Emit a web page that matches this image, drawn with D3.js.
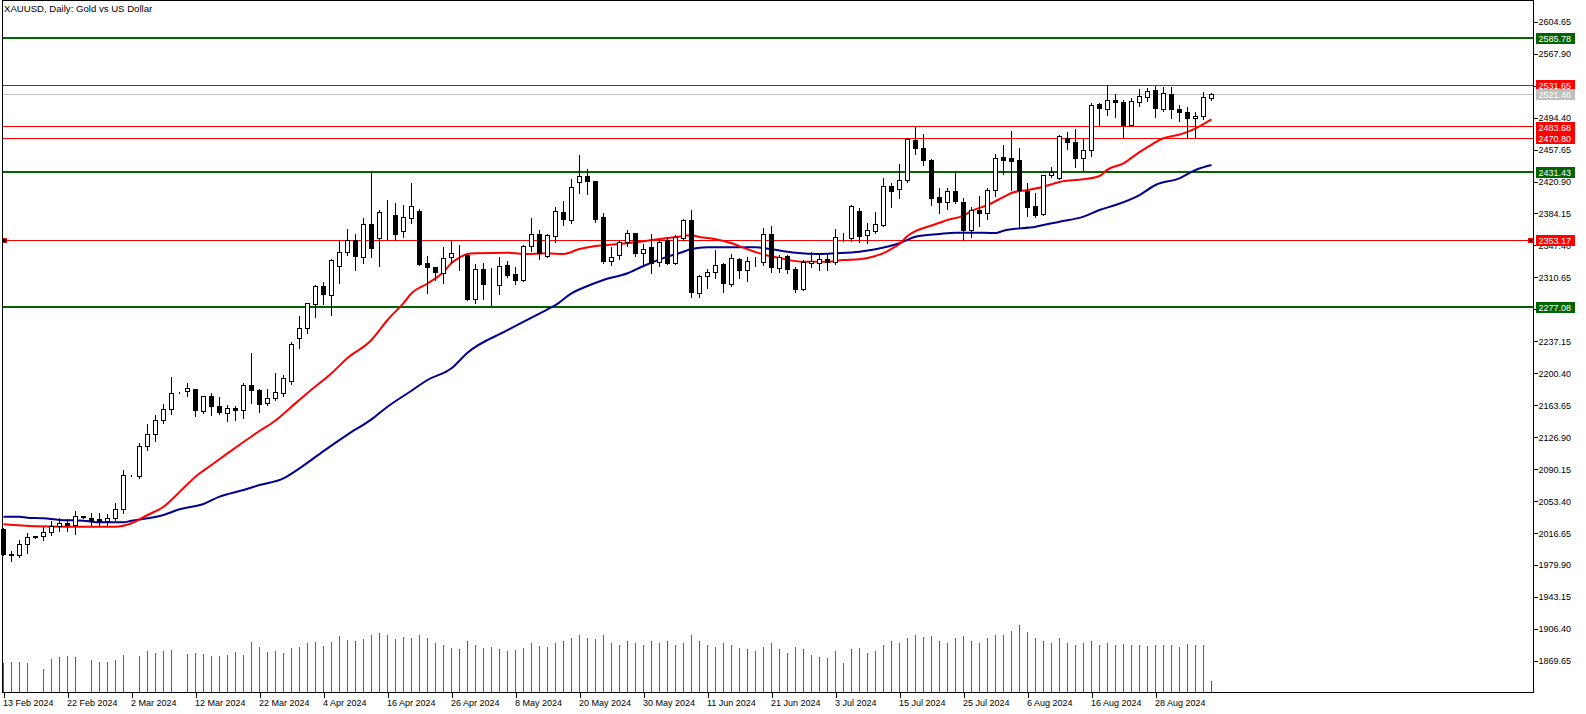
<!DOCTYPE html>
<html><head><meta charset="utf-8">
<script src="https://cdn.jsdelivr.net/npm/d3@7/dist/d3.min.js"></script>
<style>
html,body{margin:0;padding:0;background:#fff;}
svg{display:block;}
text{font-family:Tahoma,"Liberation Sans",Arial,sans-serif;font-size:9px;}
</style></head>
<body><svg id="c" width="1586" height="714"></svg>
<script>
// ---------- data ----------
const title = "XAUUSD, Daily:  Gold vs US Dollar";
const dateTickBars = [0,8,16,24,32,40,48,56,64,72,80,88,96,104,112,120,128,136,144];
const dateTickLabels = ["13 Feb 2024","22 Feb 2024","2 Mar 2024","12 Mar 2024","22 Mar 2024","4 Apr 2024","16 Apr 2024","26 Apr 2024","8 May 2024","20 May 2024","30 May 2024","11 Jun 2024","21 Jun 2024","3 Jul 2024","15 Jul 2024","25 Jul 2024","6 Aug 2024","16 Aug 2024","28 Aug 2024"];
const priceTicks = [2604.65,2567.90,2531.15,2494.40,2457.65,2420.90,2384.15,2347.40,2310.65,2273.90,2237.15,2200.40,2163.65,2126.90,2090.15,2053.40,2016.65,1979.90,1943.15,1906.40,1869.65];

const open = [2021,1992,1990.5,2003.7,2012.9,2012.4,2017.0,2024.7,2028.2,2025.9,2035.4,2033.6,2032.4,2029.7,2033.1,2043.9,2083.0,2081.4,2115.9,2130.2,
2145.8,2158.9,2178.5,2179.1,2181.9,2156.1,2174.2,2162.7,2154.3,2160.1,2157.3,2186.9,2181.1,2165.8,2171.6,2177.3,2191.5,2240.6,2252.1,2279.7,
2299.9,2289.5,2322.9,2339.0,2352.8,2333.2,2372.0,2355.6,2383.5,2382.4,2363.1,2378.5,2386.9,2326.8,2322.2,2315.3,2333.7,2336.4,2336.4,2285.4,
2319.9,2303.0,2301.9,2324.9,2314.5,2307.6,2345.9,2360.2,2335.2,2357.4,2385.8,2376.6,2419.5,2427.2,2421.5,2379.7,2328.6,2336.4,2350.5,2361.3,
2337.9,2345.2,2327.5,2353.6,2326.8,2355.6,2376.6,2292.3,2311.4,2316.0,2325.7,2303.0,2331.4,2318.3,2328.6,2327.9,2360.5,2321.1,2334.4,2319.9,
2297.3,2326.8,2326.8,2331.4,2327.5,2356.2,2355.6,2386.9,2358.5,2363.1,2370.9,2415.7,2411.9,2421.8,2468.6,2459.0,2445.6,2402.7,2397.0,2409.9,
2397.0,2364.3,2388.1,2384.3,2411.1,2448.7,2447.6,2445.6,2409.1,2392.7,2383.5,2427.5,2424.6,2470.6,2466.0,2447.6,2456.3,2508.9,2503.9,2513.8,
2512.0,2485.0,2512.0,2517.7,2525.3,2503.9,2521.2,2503.9,2500.5,2493.6,2495.4,2516.6];
const high = [2023,1996,2008.6,2016.3,2013.2,2023.2,2030.1,2033.6,2032.7,2041.9,2035.6,2039.3,2039.3,2038.5,2050.8,2089.1,2083.4,2119.8,2142.0,2152.4,
2165.0,2195.7,2178.8,2188.8,2182.3,2174.0,2177.3,2172.7,2163.9,2162.7,2188.8,2223.3,2182.3,2181.9,2200.3,2198.4,2236.0,2266.2,2281.5,2301.9,
2305.7,2331.4,2353.6,2366.2,2360.5,2378.6,2431.43,2388.1,2399.6,2395.8,2393.9,2419.5,2389.2,2335.2,2323.0,2345.2,2352.8,2347.8,2339.2,2326.0,
2326.8,2321.1,2334.4,2329.8,2322.2,2347.8,2378.5,2365.1,2360.2,2391.9,2398.5,2423.4,2451.4,2434.9,2422.0,2385.0,2345.9,2353.6,2365.1,2362.0,
2348.7,2360.2,2353.6,2357.4,2359.4,2377.8,2388.1,2313.3,2319.9,2342.1,2326.8,2337.5,2332.6,2334.4,2334.4,2367.1,2369.7,2336.4,2336.4,2322.9,
2330.6,2340.1,2337.5,2337.5,2365.9,2362.0,2393.9,2390.7,2372.8,2386.1,2424.6,2418.8,2440.7,2470.6,2483.68,2475.5,2446.4,2413.8,2413.1,2432.1,
2401.6,2391.9,2404.2,2413.8,2452.5,2462.9,2478.9,2459.0,2418.8,2407.3,2428.3,2437.2,2474.4,2478.1,2480.9,2470.6,2510.8,2511.5,2531.65,2521.5,
2514.6,2516.6,2527.2,2528.1,2530.7,2529.9,2529.9,2508.9,2506.9,2501.1,2524.1,2522.6];
const low = [1991,1984.5,1989.4,1993.3,2011.5,2008.6,2014.4,2018.9,2018.9,2015.5,2034.5,2025.9,2025.9,2025.9,2031.6,2039.3,2082.2,2079.6,2112.1,2122.8,
2143.5,2153.5,2177.7,2174.5,2151.2,2154.3,2152.4,2154.0,2145.8,2146.6,2149.3,2166.5,2156.1,2163.9,2169.6,2174.2,2187.7,2229.1,2247.0,2265.4,
2280.0,2267.4,2303.8,2336.4,2319.1,2326.8,2333.7,2323.7,2353.6,2353.6,2357.4,2373.5,2324.8,2292.3,2307.6,2304.5,2326.8,2319.1,2284.6,2281.5,
2285.4,2278.9,2291.5,2310.7,2303.0,2306.5,2341.0,2332.1,2334.4,2351.6,2370.9,2372.8,2408.0,2406.2,2374.6,2327.5,2324.9,2331.7,2346.7,2335.2,
2324.9,2315.3,2323.7,2326.4,2326.0,2353.6,2287.7,2287.7,2298.1,2309.6,2294.1,2300.7,2309.6,2306.5,2323.7,2324.9,2317.1,2317.1,2316.0,2294.1,
2296.1,2322.9,2319.1,2319.1,2326.0,2352.8,2352.8,2351.6,2349.8,2361.3,2369.7,2391.9,2401.6,2420.6,2452.2,2439.8,2393.9,2384.3,2388.9,2396.5,
2353.17,2356.7,2370.0,2377.4,2404.2,2429.5,2411.1,2367.1,2381.2,2380.4,2382.4,2426.4,2423.4,2457.9,2437.2,2434.1,2450.2,2485.9,2497.4,2495.4,
2472.4,2484.5,2507.7,2513.8,2494.7,2502.3,2493.6,2490.8,2470.8,2471.0,2492.4,2514.6];
const close = [1992.5,1991,2003.7,2011.7,2012.1,2017.5,2024.7,2028.2,2025.9,2036.2,2035.0,2031.6,2029.7,2033.6,2043.9,2083.0,2082.8,2115.9,2130.2,2146.6,
2158.9,2177.3,2178.2,2183.0,2157.3,2173.4,2161.9,2155.0,2160.1,2157.3,2186.9,2180.3,2164.7,2171.6,2178.5,2194.6,2234.0,2252.1,2280.8,2300.7,
2291.2,2330.6,2339.5,2352.8,2334.4,2372.0,2344.1,2385.0,2383.2,2360.2,2379.7,2392.7,2326.0,2321.8,2316.0,2332.6,2338.3,2335.8,2285.8,2319.9,
2303.0,2302.4,2323.7,2313.4,2307.6,2346.7,2360.2,2338.3,2359.0,2386.9,2377.4,2414.2,2427.2,2420.6,2377.7,2328.6,2333.7,2351.0,2361.3,2338.3,
2342.9,2326.8,2351.0,2326.8,2356.2,2375.8,2293.0,2311.4,2316.5,2324.9,2303.8,2332.6,2318.3,2329.4,2328.9,2360.2,2321.8,2333.2,2319.9,2297.3,
2327.9,2328.6,2331.4,2327.5,2356.7,2356.5,2392.7,2358.2,2365.1,2371.7,2415.7,2409.9,2422.6,2469.7,2459.0,2445.6,2401.6,2396.5,2409.9,2397.6,
2364.3,2387.3,2384.3,2411.1,2447.6,2445.6,2443.6,2410.3,2390.7,2382.4,2427.5,2431.5,2472.4,2465.5,2447.6,2456.3,2508.0,2505.1,2513.8,2511.5,
2485.0,2512.6,2518.4,2524.1,2505.1,2522.3,2503.9,2500.5,2493.6,2496.2,2517.7,2521.46];
const volume = [60,61,61,59,0,47,67,71,73,71,0,65,61,61,65,75,0,73,83,79,
83,85,0,77,79,77,73,73,75,81,75,101,91,81,83,79,89,91,99,101,
93,101,113,105,103,107,115,119,115,107,
112,110,116,110,100,96,90,88,104,96,
90,92,88,84,86,90,100,94,92,100,
104,110,116,110,108,116,100,96,104,100,
96,104,100,104,96,100,116,104,96,92,
100,96,90,88,84,92,100,88,80,92,
88,76,72,70,84,60,88,90,80,84,
96,104,100,110,116,112,114,104,100,110,
114,104,100,110,116,116,124,136,122,110,
104,100,110,100,96,100,104,96,100,96,
98,96,96,94,96,96,96,92,98,96,
96,24];

// moving averages (bar index, value)
const maRedBars = [0,4,8,14,16,18,20,22,24,26,28,30,32,34,36,38,41,43,46,48,50,51,53,55,56,57,58,59,63,65,68,70,72,74,77,80,82,84,86,87,89,91,93,95,97,100,103,105,107,109,110,111,112,113,114,116,118,120,121,123,125,126,128,130,132,135,137,138,140,142,143,145,147,148,149,150,151];
const maRedVals = [2026.8,2024.5,2024.0,2024.0,2028.0,2037.5,2047.0,2063.9,2081.5,2095.0,2108.4,2121.4,2134.1,2146.2,2162.0,2177.8,2200.4,2218.0,2238.7,2261.7,2281.2,2292.4,2303.7,2316.9,2327.2,2333.5,2337.6,2338.4,2339.1,2337.6,2338.4,2337.6,2343.3,2346.8,2349.1,2352.2,2354.8,2357.1,2359.0,2357.1,2354.5,2349.9,2343.0,2337.0,2333.0,2328.7,2328.7,2330.7,2331.5,2335.3,2338.5,2343.5,2349.1,2358.3,2364.0,2370.3,2376.7,2381.8,2387.0,2393.9,2403.1,2407.7,2411.2,2415.0,2420.4,2423.5,2427.3,2434.5,2441.9,2454.8,2460.5,2470.6,2475.0,2478.0,2482.1,2487.0,2492.4];
const maBlueBars = [0,2,3,5,7,10,12,15,16,18,20,22,25,27,30,32,35,37,40,43,46,48,51,53,56,58,63,68,69,71,73,75,78,80,83,85,86,88,94,96,99,102,104,107,109,112,114,117,119,121,124,125,129,132,135,137,139,142,144,147,149,151];
const maBlueVals = [2035.6,2035.6,2034.4,2033.7,2031.8,2031.0,2029.1,2029.1,2031.0,2033.7,2037.5,2044.1,2050.2,2058.6,2066.2,2072.0,2079.7,2091.2,2111.0,2130.0,2147.5,2162.0,2180.4,2192.7,2206.2,2224.1,2250.0,2274.0,2278.9,2292.4,2300.8,2307.7,2315.4,2323.8,2334.5,2340.2,2343.3,2345.3,2345.3,2343.0,2339.1,2337.6,2338.4,2340.2,2343.0,2349.9,2357.5,2360.6,2362.1,2362.1,2361.7,2364.4,2369.0,2374.7,2380.5,2388.2,2393.9,2405.4,2416.9,2424.6,2434.2,2439.9];

const greenLevels = [2585.78, 2431.43, 2277.08];
const redLevels = [2531.65, 2483.68, 2470.80, 2353.17];
const bidLevel = 2521.46;
const selectedLevel = 2353.17;

// ---------- layout ----------
const plotLeft = 2.5, plotRight = 1533.5, plotTop = 0.5, plotBottom = 692.5;
const svg = d3.select("#c");
const N = close.length;
const x = d3.scaleLinear().domain([0, N - 1]).range([3.5, 3.5 + 8 * (N - 1)]);
const y = d3.scaleLinear().domain([1869.65, 2604.65]).range([661, 21.7]);
const yVol = d3.scaleLinear().domain([0, 400]).range([692.7, 492.7]);
const snap = v => Math.round(v - 0.5) + 0.5;
const FONT = "Tahoma, 'Liberation Sans', Arial, sans-serif";

const bars = d3.range(N).map(i => ({i, o: open[i], h: high[i], l: low[i], c: close[i], v: volume[i]}));

// volumes
svg.append("g").selectAll("line").data(bars.filter(d => d.v > 0)).join("line")
  .attr("x1", d => x(d.i)).attr("x2", d => x(d.i))
  .attr("y1", plotBottom).attr("y2", d => Math.round(yVol(d.v)))
  .attr("stroke", "#00a000").attr("stroke-width", 1).attr("shape-rendering", "crispEdges");

// horizontal levels
const lv = svg.append("g").attr("shape-rendering", "crispEdges");
lv.append("line").attr("x1", plotLeft).attr("x2", plotRight).attr("y1", snap(y(bidLevel))).attr("y2", snap(y(bidLevel)))
  .attr("stroke", "#c0c0c0").attr("stroke-width", 1);
lv.selectAll(".rl").data(redLevels).join("line").attr("class", "rl")
  .attr("x1", plotLeft).attr("x2", plotRight).attr("y1", d => snap(y(d))).attr("y2", d => snap(y(d)))
  .attr("stroke", "#ff0000").attr("stroke-width", 1);
lv.selectAll(".gl").data(greenLevels).join("line").attr("class", "gl")
  .attr("x1", plotLeft).attr("x2", plotRight).attr("y1", d => Math.round(y(d))).attr("y2", d => Math.round(y(d)))
  .attr("stroke", "#006400").attr("stroke-width", 2);

// moving averages
const maLine = d3.line().x(d => x(d[0])).y(d => y(d[1])).curve(d3.curveMonotoneX);
svg.append("path").datum(maBlueBars.map((b, i) => [b, maBlueVals[i]]))
  .attr("d", maLine).attr("fill", "none").attr("stroke", "#00008b").attr("stroke-width", 2);
svg.append("path").datum(maRedBars.map((b, i) => [b, maRedVals[i]]))
  .attr("d", maLine).attr("fill", "none").attr("stroke", "#ff0000").attr("stroke-width", 2);

// candles
const cg = svg.append("g").attr("shape-rendering", "crispEdges");
cg.selectAll(".wick").data(bars).join("line").attr("class", "wick")
  .attr("x1", d => x(d.i)).attr("x2", d => x(d.i))
  .attr("y1", d => Math.round(y(d.h))).attr("y2", d => Math.round(y(d.l)) + 1)
  .attr("stroke", "#000").attr("stroke-width", 1);
cg.selectAll(".body").data(bars).join("rect").attr("class", "body")
  .attr("x", d => x(d.i) - 2)
  .attr("width", 4)
  .attr("y", d => snap(y(Math.max(d.o, d.c))))
  .attr("height", d => Math.max(0, snap(y(Math.min(d.o, d.c))) - snap(y(Math.max(d.o, d.c)))))
  .attr("fill", d => d.c >= d.o ? "#fff" : "#000")
  .attr("stroke", "#000").attr("stroke-width", 1);

// selected-object anchor squares on the 2353.17 line
svg.selectAll(".anch").data([plotLeft + 2, plotRight - 3.5]).join("rect").attr("class", "anch")
  .attr("x", d => d - 2).attr("y", snap(y(selectedLevel)) - 2).attr("width", 4).attr("height", 4)
  .attr("fill", "#000").attr("stroke", "#ff0000").attr("stroke-width", 1).attr("shape-rendering", "crispEdges");

// frame
svg.append("rect").attr("x", plotLeft).attr("y", plotTop).attr("width", plotRight - plotLeft).attr("height", plotBottom - plotTop)
  .attr("fill", "none").attr("stroke", "#000").attr("stroke-width", 1).attr("shape-rendering", "crispEdges");

// price axis
const yAxis = d3.axisRight(y).tickValues(priceTicks).tickSize(4).tickPadding(1).tickFormat(d3.format(".2f"));
const ya = svg.append("g").attr("transform", `translate(${plotRight},0)`).call(yAxis);
ya.select(".domain").remove();
ya.selectAll("line").attr("stroke", "#000").attr("shape-rendering", "crispEdges");
ya.selectAll("text").style("font-family", FONT).style("font-size", "9px").style("fill", "#000");

// time axis
const xAxis = d3.axisBottom(x).tickValues(dateTickBars).tickSize(5).tickFormat((d, i) => dateTickLabels[i]);
const xa = svg.append("g").attr("transform", `translate(0,${plotBottom})`).call(xAxis);
xa.select(".domain").remove();
xa.selectAll("line").attr("stroke", "#000").attr("shape-rendering", "crispEdges");
xa.selectAll("text").attr("text-anchor", "start").attr("dx", -1).attr("y", 7)
  .style("font-family", FONT).style("font-size", "9px").style("fill", "#000");

// price level tags
const tags = [...greenLevels.map(v => ({v, col: "#006400"})), ...redLevels.map(v => ({v, col: "#ff0000"})), {v: bidLevel, col: "#c0c0c0"}];
const tg = svg.append("g");
tg.selectAll("rect").data(tags).join("rect")
  .attr("x", plotRight + 2.5).attr("y", d => Math.round(y(d.v)) - 5).attr("width", 39).attr("height", 11)
  .attr("fill", d => d.col).attr("shape-rendering", "crispEdges");
tg.selectAll("text").data(tags).join("text")
  .attr("x", plotRight + 5).attr("y", d => Math.round(y(d.v)) + 0.5).attr("dy", "0.35em")
  .style("fill", "#fff").style("font-size", "9px").style("font-family", FONT).text(d => d.v.toFixed(2));

// title
svg.append("text").attr("x", 4).attr("y", 12).style("font-size", "9.6px").style("fill", "#000").text(title);
</script></body></html>
